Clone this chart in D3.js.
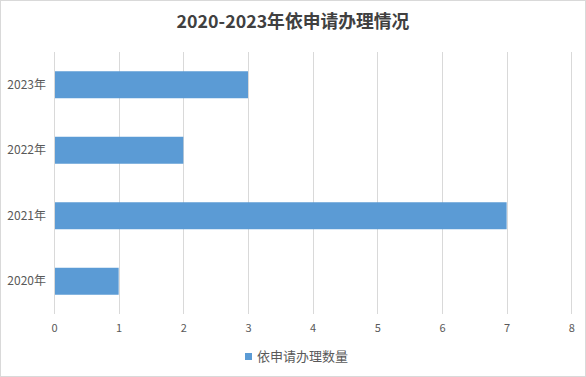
<!DOCTYPE html>
<html>
<head>
<meta charset="utf-8">
<script src="https://cdn.jsdelivr.net/npm/d3@7"></script>
<style>
  body { margin: 0; background: #fff; }
  text { font-family: "Noto Sans CJK SC", "Noto Sans", sans-serif; }
</style>
</head>
<body>
<div id="chart"></div>
<script>
// chart data
const years = ['2020年', '2021年', '2022年', '2023年'];
const counts = [1, 7, 2, 3];
const xTicks = [0, 1, 2, 3, 4, 5, 6, 7, 8];
const seriesName = '依申请办理数量';
const chartTitle = '2020-2023年依申请办理情况';

const width = 586, height = 377;
const margin = { top: 52, right: 15, bottom: 63, left: 54 };

const svg = d3.select('#chart').append('svg')
    .attr('width', width)
    .attr('height', height);

// outer border
svg.append('rect')
    .attr('x', 0.5).attr('y', 0.5)
    .attr('width', width - 1).attr('height', height - 1)
    .attr('fill', '#fff')
    .attr('stroke', '#d9d9d9');

const plotW = 571.3 - margin.left;
const plotH = 314 - margin.top;

const plot = svg.append('g')
    .attr('transform', `translate(${margin.left},${margin.top})`);

const x = d3.scaleLinear().domain([0, 8]).range([0, plotW]);
const y = d3.scaleBand()
    .domain(years.slice().reverse())
    .range([0, plotH])
    .paddingInner(0.588)
    .paddingOuter(0.294);

// grid lines
plot.selectAll('line.grid')
    .data(xTicks)
    .enter()
    .append('line')
    .attr('class', 'grid')
    .attr('x1', d => Math.round(x(d)) + 0.5)
    .attr('x2', d => Math.round(x(d)) + 0.5)
    .attr('y1', 0)
    .attr('y2', plotH)
    .attr('stroke', '#d9d9d9')
    .attr('stroke-width', 1);

// bars
plot.selectAll('rect.bar')
    .data(years)
    .enter()
    .append('rect')
    .attr('class', 'bar')
    .attr('x', x(0) + 1)
    .attr('y', d => y(d))
    .attr('width', (d, i) => x(counts[i]) - x(0) - 1)
    .attr('height', y.bandwidth())
    .attr('fill', '#5b9bd5');

// x axis labels
const xAxis = plot.append('g')
    .attr('transform', `translate(0,${plotH})`)
    .call(d3.axisBottom(x).tickValues(xTicks).tickSize(0).tickPadding(10));
xAxis.select('.domain').remove();
xAxis.selectAll('text')
    .style('font-size', '11px')
    .style('font-family', '"Noto Sans CJK SC", sans-serif')
    .attr('fill', '#595959');

// y axis labels
const yAxis = plot.append('g')
    .call(d3.axisLeft(y).tickSize(0).tickPadding(8));
yAxis.select('.domain').remove();
yAxis.selectAll('text')
    .style('font-size', '12px')
    .style('font-family', '"Noto Sans CJK SC", sans-serif')
    .attr('fill', '#595959');

// title
svg.append('text')
    .attr('x', width / 2)
    .attr('y', 28)
    .attr('text-anchor', 'middle')
    .style('font-size', '17.8px')
    .style('font-weight', 'bold')
    .attr('fill', '#404040')
    .text(chartTitle);

// legend
const legend = svg.append('g').attr('transform', 'translate(245,353)');
legend.append('rect')
    .attr('width', 7).attr('height', 7)
    .attr('fill', '#5b9bd5');
legend.append('text')
    .attr('x', 12)
    .attr('y', 3.5)
    .attr('dy', '0.35em')
    .style('font-size', '13px')
    .attr('fill', '#595959')
    .text(seriesName);
</script>
</body>
</html>
